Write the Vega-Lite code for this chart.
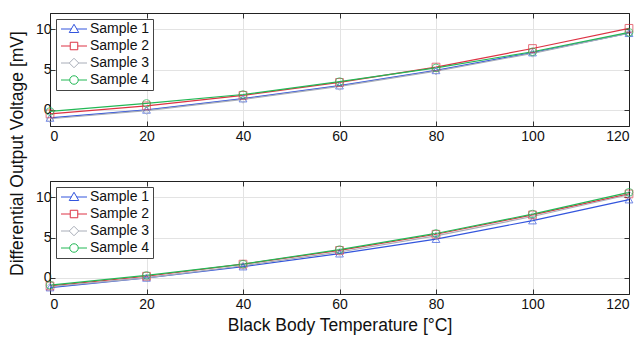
{
  "$schema": "https://vega.github.io/schema/vega-lite/v6.json",
  "padding": {"left": 7, "top": 12, "right": 3, "bottom": 3},
  "bounds": "flush",
  "spacing": 55,
  "config": {
    "font": "Liberation Sans",
    "view": {"stroke": "#222", "strokeWidth": 1},
    "axis": {
      "labelFont": "Liberation Sans", "labelFontSize": 14, "labelColor": "#111",
      "titleFont": "Liberation Sans", "titleFontSize": 17.5, "titleFontWeight": "normal", "titleColor": "#111",
      "domainColor": "#222", "domainWidth": 1,
      "tickColor": "#333", "tickSize": -5, "tickWidth": 1,
      "gridColor": "#e3e3e3", "gridWidth": 1
    },
    "legend": {
      "labelFont": "Liberation Sans", "labelFontSize": 14, "labelColor": "#111",
      "strokeColor": "#444", "fillColor": "white", "padding": 3, "cornerRadius": 0
    }
  },
  "datasets": {
    "top": [
      {"t": 0, "v": -1.0, "s": "Sample 1"}, {"t": 20, "v": 0.0, "s": "Sample 1"}, {"t": 40, "v": 1.4, "s": "Sample 1"}, {"t": 60, "v": 3.0, "s": "Sample 1"}, {"t": 80, "v": 4.9, "s": "Sample 1"}, {"t": 100, "v": 7.1, "s": "Sample 1"}, {"t": 120, "v": 9.5, "s": "Sample 1"},
      {"t": 0, "v": -0.5, "s": "Sample 2"}, {"t": 20, "v": 0.5, "s": "Sample 2"}, {"t": 40, "v": 1.8, "s": "Sample 2"}, {"t": 60, "v": 3.4, "s": "Sample 2"}, {"t": 80, "v": 5.3, "s": "Sample 2"}, {"t": 100, "v": 7.6, "s": "Sample 2"}, {"t": 120, "v": 10.1, "s": "Sample 2"},
      {"t": 0, "v": -1.1, "s": "Sample 3"}, {"t": 20, "v": -0.1, "s": "Sample 3"}, {"t": 40, "v": 1.3, "s": "Sample 3"}, {"t": 60, "v": 2.9, "s": "Sample 3"}, {"t": 80, "v": 4.8, "s": "Sample 3"}, {"t": 100, "v": 7.0, "s": "Sample 3"}, {"t": 120, "v": 9.5, "s": "Sample 3"},
      {"t": 0, "v": -0.2, "s": "Sample 4"}, {"t": 20, "v": 0.8, "s": "Sample 4"}, {"t": 40, "v": 1.9, "s": "Sample 4"}, {"t": 60, "v": 3.5, "s": "Sample 4"}, {"t": 80, "v": 5.2, "s": "Sample 4"}, {"t": 100, "v": 7.2, "s": "Sample 4"}, {"t": 120, "v": 9.6, "s": "Sample 4"}
    ],
    "bottom": [
      {"t": 0, "v": -1.2, "s": "Sample 1"}, {"t": 20, "v": 0.0, "s": "Sample 1"}, {"t": 40, "v": 1.4, "s": "Sample 1"}, {"t": 60, "v": 3.0, "s": "Sample 1"}, {"t": 80, "v": 4.8, "s": "Sample 1"}, {"t": 100, "v": 7.1, "s": "Sample 1"}, {"t": 120, "v": 9.7, "s": "Sample 1"},
      {"t": 0, "v": -1.0, "s": "Sample 2"}, {"t": 20, "v": 0.2, "s": "Sample 2"}, {"t": 40, "v": 1.7, "s": "Sample 2"}, {"t": 60, "v": 3.4, "s": "Sample 2"}, {"t": 80, "v": 5.4, "s": "Sample 2"}, {"t": 100, "v": 7.8, "s": "Sample 2"}, {"t": 120, "v": 10.4, "s": "Sample 2"},
      {"t": 0, "v": -1.1, "s": "Sample 3"}, {"t": 20, "v": 0.0, "s": "Sample 3"}, {"t": 40, "v": 1.5, "s": "Sample 3"}, {"t": 60, "v": 3.2, "s": "Sample 3"}, {"t": 80, "v": 5.2, "s": "Sample 3"}, {"t": 100, "v": 7.6, "s": "Sample 3"}, {"t": 120, "v": 10.3, "s": "Sample 3"},
      {"t": 0, "v": -0.9, "s": "Sample 4"}, {"t": 20, "v": 0.3, "s": "Sample 4"}, {"t": 40, "v": 1.7, "s": "Sample 4"}, {"t": 60, "v": 3.5, "s": "Sample 4"}, {"t": 80, "v": 5.5, "s": "Sample 4"}, {"t": 100, "v": 7.9, "s": "Sample 4"}, {"t": 120, "v": 10.6, "s": "Sample 4"}
    ]
  },
  "resolve": {"scale": {"color": "independent"}, "legend": {"color": "independent"}},
  "vconcat": [
    {
      "width": 579, "height": 113,
      "data": {"name": "top"},
      "layer": [
        {
          "mark": {"type": "line", "strokeWidth": 1.2},
          "encoding": {
            "x": {"field": "t", "type": "quantitative", "scale": {"domain": [0, 120], "nice": false}, "axis": {"values": [0, 20, 40, 60, 80, 100, 120], "title": null, "labelPadding": 8}},
            "y": {"field": "v", "type": "quantitative", "scale": {"domain": [-2, 12], "nice": false}, "axis": {"values": [0, 5, 10], "title": "Differential Output Voltage [mV]", "titleX": -33, "titleY": 140, "titleAlign": "center", "titleBaseline": "middle", "labelPadding": 4}},
            "color": {"field": "s", "type": "nominal", "scale": {"domain": ["Sample 1", "Sample 2", "Sample 3", "Sample 4"], "range": ["#3355dd", "#dd3344", "#a8adb8", "#22b855"]},
              "legend": {"title": null, "orient": "top-left", "offset": 6, "symbolSize": 100, "symbolOffset": 0, "labelOffset": 17, "rowPadding": 3,
                "encode": {"symbols": {"update": {"fill": {"value": "transparent"}, "strokeWidth": {"value": 1}, "shape": {"signal": "datum.value === 'Sample 1' ? 'M-1,0H1.05M2.15,0H4.2M1.6,-0.95L2.55,0.7L0.65,0.7Z' : datum.value === 'Sample 2' ? 'M-1,0H0.85M2.35,0H4.2M0.85,-0.75H2.35V0.75H0.85Z' : datum.value === 'Sample 3' ? 'M-1,0H0.65M2.55,0H4.2M1.6,-0.95L2.55,0L1.6,0.95L0.65,0Z' : 'M-1,0H0.75M2.45,0H4.2M2.45,0A0.85,0.85,0,1,1,0.75,0A0.85,0.85,0,1,1,2.45,0Z'"}}}}}}
          }
        },
        {
          "transform": [{"filter": "datum.s === 'Sample 1'"}],
          "mark": {"type": "point", "filled": false, "size": 60, "strokeWidth": 1, "shape": "triangle-up"},
          "encoding": {"x": {"field": "t", "type": "quantitative", "axis": null}, "y": {"field": "v", "type": "quantitative", "axis": null}, "color": {"field": "s", "type": "nominal", "legend": null}}
        },
        {
          "transform": [{"filter": "datum.s === 'Sample 2'"}],
          "mark": {"type": "point", "filled": false, "size": 60, "strokeWidth": 1, "shape": "square"},
          "encoding": {"x": {"field": "t", "type": "quantitative", "axis": null}, "y": {"field": "v", "type": "quantitative", "axis": null}, "color": {"field": "s", "type": "nominal", "legend": null}}
        },
        {
          "transform": [{"filter": "datum.s === 'Sample 3'"}],
          "mark": {"type": "point", "filled": false, "size": 60, "strokeWidth": 1, "shape": "diamond"},
          "encoding": {"x": {"field": "t", "type": "quantitative", "axis": null}, "y": {"field": "v", "type": "quantitative", "axis": null}, "color": {"field": "s", "type": "nominal", "legend": null}}
        },
        {
          "transform": [{"filter": "datum.s === 'Sample 4'"}],
          "mark": {"type": "point", "filled": false, "size": 60, "strokeWidth": 1, "shape": "circle"},
          "encoding": {"x": {"field": "t", "type": "quantitative", "axis": null}, "y": {"field": "v", "type": "quantitative", "axis": null}, "color": {"field": "s", "type": "nominal", "legend": null}}
        },
        {
          "mark": {"type": "point", "opacity": 0},
          "encoding": {
            "x": {"field": "t", "type": "quantitative", "axis": {"orient": "top", "values": [0, 20, 40, 60, 80, 100, 120], "labels": false, "grid": false, "title": null}},
            "y": {"field": "v", "type": "quantitative", "axis": {"orient": "right", "values": [0, 5, 10], "labels": false, "grid": false, "title": null}}
          }
        }
      ],
      "resolve": {"axis": {"x": "independent", "y": "independent"}}
    },
    {
      "width": 579, "height": 113,
      "data": {"name": "bottom"},
      "layer": [
        {
          "mark": {"type": "line", "strokeWidth": 1.2},
          "encoding": {
            "x": {"field": "t", "type": "quantitative", "scale": {"domain": [0, 120], "nice": false}, "axis": {"values": [0, 20, 40, 60, 80, 100, 120], "title": "Black Body Temperature [°C]", "labelPadding": 8, "titlePadding": 5}},
            "y": {"field": "v", "type": "quantitative", "scale": {"domain": [-2, 12], "nice": false}, "axis": {"values": [0, 5, 10], "title": null, "labelPadding": 4}},
            "color": {"field": "s", "type": "nominal", "scale": {"domain": ["Sample 1", "Sample 2", "Sample 3", "Sample 4"], "range": ["#3355dd", "#dd3344", "#a8adb8", "#22b855"]},
              "legend": {"title": null, "orient": "top-left", "offset": 6, "symbolSize": 100, "symbolOffset": 0, "labelOffset": 17, "rowPadding": 3,
                "encode": {"symbols": {"update": {"fill": {"value": "transparent"}, "strokeWidth": {"value": 1}, "shape": {"signal": "datum.value === 'Sample 1' ? 'M-1,0H1.05M2.15,0H4.2M1.6,-0.95L2.55,0.7L0.65,0.7Z' : datum.value === 'Sample 2' ? 'M-1,0H0.85M2.35,0H4.2M0.85,-0.75H2.35V0.75H0.85Z' : datum.value === 'Sample 3' ? 'M-1,0H0.65M2.55,0H4.2M1.6,-0.95L2.55,0L1.6,0.95L0.65,0Z' : 'M-1,0H0.75M2.45,0H4.2M2.45,0A0.85,0.85,0,1,1,0.75,0A0.85,0.85,0,1,1,2.45,0Z'"}}}}}}
          }
        },
        {
          "transform": [{"filter": "datum.s === 'Sample 1'"}],
          "mark": {"type": "point", "filled": false, "size": 60, "strokeWidth": 1, "shape": "triangle-up"},
          "encoding": {"x": {"field": "t", "type": "quantitative", "axis": null}, "y": {"field": "v", "type": "quantitative", "axis": null}, "color": {"field": "s", "type": "nominal", "legend": null}}
        },
        {
          "transform": [{"filter": "datum.s === 'Sample 2'"}],
          "mark": {"type": "point", "filled": false, "size": 60, "strokeWidth": 1, "shape": "square"},
          "encoding": {"x": {"field": "t", "type": "quantitative", "axis": null}, "y": {"field": "v", "type": "quantitative", "axis": null}, "color": {"field": "s", "type": "nominal", "legend": null}}
        },
        {
          "transform": [{"filter": "datum.s === 'Sample 3'"}],
          "mark": {"type": "point", "filled": false, "size": 60, "strokeWidth": 1, "shape": "diamond"},
          "encoding": {"x": {"field": "t", "type": "quantitative", "axis": null}, "y": {"field": "v", "type": "quantitative", "axis": null}, "color": {"field": "s", "type": "nominal", "legend": null}}
        },
        {
          "transform": [{"filter": "datum.s === 'Sample 4'"}],
          "mark": {"type": "point", "filled": false, "size": 60, "strokeWidth": 1, "shape": "circle"},
          "encoding": {"x": {"field": "t", "type": "quantitative", "axis": null}, "y": {"field": "v", "type": "quantitative", "axis": null}, "color": {"field": "s", "type": "nominal", "legend": null}}
        },
        {
          "mark": {"type": "point", "opacity": 0},
          "encoding": {
            "x": {"field": "t", "type": "quantitative", "axis": {"orient": "top", "values": [0, 20, 40, 60, 80, 100, 120], "labels": false, "grid": false, "title": null}},
            "y": {"field": "v", "type": "quantitative", "axis": {"orient": "right", "values": [0, 5, 10], "labels": false, "grid": false, "title": null}}
          }
        }
      ],
      "resolve": {"axis": {"x": "independent", "y": "independent"}}
    }
  ]
}
